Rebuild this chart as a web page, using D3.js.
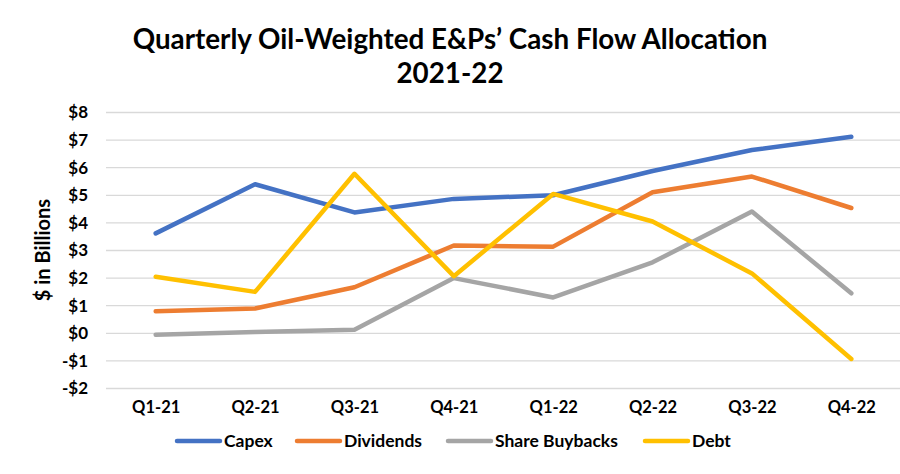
<!DOCTYPE html>
<html><head><meta charset="utf-8">
<script src="https://cdn.jsdelivr.net/npm/d3@7"></script>
<style>body{margin:0;background:#fff}svg{display:block}text{font-family:Lato,"Open Sans",sans-serif;font-weight:bold;fill:#000}</style>
</head><body><svg id="c" width="900" height="474"></svg>
<script>
const categories = ["Q1-21","Q2-21","Q3-21","Q4-21","Q1-22","Q2-22","Q3-22","Q4-22"];
const capex      = [3.62, 5.40, 4.38, 4.87, 5.00, 5.88, 6.64, 7.12];
const dividends  = [0.80, 0.90, 1.67, 3.18, 3.14, 5.11, 5.68, 4.54];
const buybacks   = [-0.05, 0.05, 0.13, 2.00, 1.30, 2.57, 4.41, 1.45];
const debt       = [2.05, 1.50, 5.78, 2.07, 5.05, 4.05, 2.17, -0.93];
const yTicks     = [-2,-1,0,1,2,3,4,5,6,7,8];
const seriesNames = ["Capex","Dividends","Share Buybacks","Debt"];
const seriesColors = ["#4472C4","#ED7D31","#A5A5A5","#FFC000"];
const seriesData = [capex, dividends, buybacks, debt];

const svg = d3.select("#c");
const x = d3.scalePoint().domain(categories).range([106, 901]).padding(0.5);
const y = d3.scaleLinear().domain([-2, 8]).range([388.5, 112.5]);
const fmt = v => (v < 0 ? "-$" : "$") + Math.abs(v);

// gridlines
svg.append("g").selectAll("line").data(yTicks).join("line")
  .attr("x1", 106).attr("x2", 900)
  .attr("y1", d => y(d)).attr("y2", d => y(d))
  .attr("stroke", "#D9D9D9").attr("stroke-width", 1.3);

// y axis labels
const yAxis = d3.axisLeft(y).tickValues(yTicks).tickFormat(fmt).tickSize(0).tickPadding(0);
const gy = svg.append("g").attr("transform", "translate(88,0)").call(yAxis);
gy.select(".domain").remove();
gy.selectAll("text").attr("font-size", 17).attr("font-family", "Lato,sans-serif").attr("font-weight", "bold").attr("fill", "#000");

// x axis labels
const xAxis = d3.axisBottom(x).tickSize(0).tickPadding(0);
const gx = svg.append("g").attr("transform", "translate(0,401)").call(xAxis);
gx.select(".domain").remove();
gx.selectAll("text").attr("font-size", 16.5).attr("font-family", "Lato,sans-serif").attr("font-weight", "bold").attr("fill", "#000");

// lines
const line = d3.line().x((d, i) => x(categories[i])).y(d => y(d));
svg.append("g").selectAll("path").data(seriesData).join("path")
  .attr("d", d => line(d)).attr("fill", "none")
  .attr("stroke", (d, i) => seriesColors[i]).attr("stroke-width", 4.5)
  .attr("stroke-linejoin", "round").attr("stroke-linecap", "round");

// title
const t1 = svg.append("text").attr("x", 450).attr("y", 49).attr("text-anchor", "middle")
  .attr("font-size", 25).text("Quarterly Oil-Weighted E\u0026Ps\u2019 Cash Flow Allocation");
function fit(sel, w) { const L = sel.node().getComputedTextLength(); const fs = +sel.attr("font-size"); sel.attr("font-size", fs * w / L); }
fit(t1, 635);
svg.append("text").attr("x", 450).attr("y", 83).attr("text-anchor", "middle")
  .attr("font-size", t1.attr("font-size")).text("2021-22");

// y title
svg.append("text").attr("transform", "translate(50,250) rotate(-90)").attr("text-anchor", "middle")
  .attr("font-size", 20).text("$ in Billions");

// legend
const legX = [177, 297, 448, 645];
const lg = svg.append("g").selectAll("g").data(seriesNames).join("g")
  .attr("transform", (d, i) => `translate(${legX[i]},441)`);
lg.append("line").attr("x1", 0).attr("x2", 43).attr("y1", 0).attr("y2", 0)
  .attr("stroke", (d, i) => seriesColors[i]).attr("stroke-width", 4.5).attr("stroke-linecap", "round");
lg.append("text").attr("x", 47).attr("y", 6).attr("font-size", 17.5).text(d => d);
</script></body></html>
